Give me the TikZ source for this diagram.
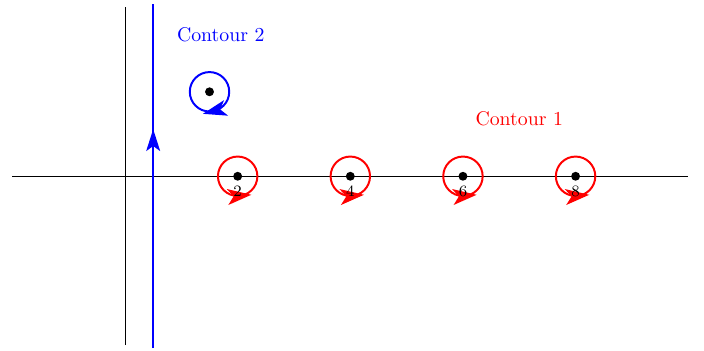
\documentclass[tikz,border=0pt]{standalone}
\usepackage{amsmath}
\usetikzlibrary{arrows.meta,decorations.markings,positioning}

\begin{document}
\begin{tikzpicture}
  \tikzstyle{axis}=[black, line width=0.5pt]
  \tikzstyle{pole}=[circle, fill=black, inner sep=0pt, minimum size=4.5pt]
  \tikzstyle{loopred}=[red, line width=1pt, postaction={decorate},
    decoration={markings, mark=at position 0.765 with {\arrow[xshift=6pt]{Stealth[length=12pt,width=8pt,inset=3pt]}}}]
  \tikzstyle{loopblue}=[blue, line width=1pt, postaction={decorate},
    decoration={markings, mark=at position 0.21 with {\arrow[xshift=6pt]{Stealth[length=12pt,width=8pt,inset=3pt]}}}]
  \useasboundingbox (-2.22,-3.09) rectangle (10.28,3.13);

  % axes
  \coordinate (xl) at (-2,0);
  \coordinate (xr) at (10,0);
  \coordinate (yb) at (0,-3);
  \coordinate (yt) at (0,3);
  \draw[axis] (xl) -- (xr);
  \draw[axis] (yb) -- (yt);

  % Contour 2: vertical line and small loop
  \coordinate (vb) at (0.5,-3.05);
  \coordinate (vt) at (0.5,3.05);
  \draw[blue, line width=1pt, postaction={decorate},
    decoration={markings, mark=at position 0.637 with {\arrow{Stealth[length=11pt,width=7pt,inset=2.5pt]}}}] (vb) -- (vt);
  \node[pole] (p0) at (1.5,1.5) {};
  \draw[loopblue] ([xshift=0.35cm]p0.center) arc[start angle=0, end angle=-360, radius=0.35];
  \node[blue] (c2) at (1.7,2.52) {Contour 2};

  % Contour 1: loops around the poles
  \foreach \k in {2,4,6,8} {
    \node[pole] (p\k) at (\k,0) {};
    \draw[loopred] ([xshift=0.35cm]p\k.center) arc[start angle=0, end angle=360, radius=0.35];
    \node[font=\footnotesize, below=-1pt of p\k] {\k};
  }
  \node[red] (c1) at (7,1.03) {Contour 1};
\end{tikzpicture}
\end{document}
